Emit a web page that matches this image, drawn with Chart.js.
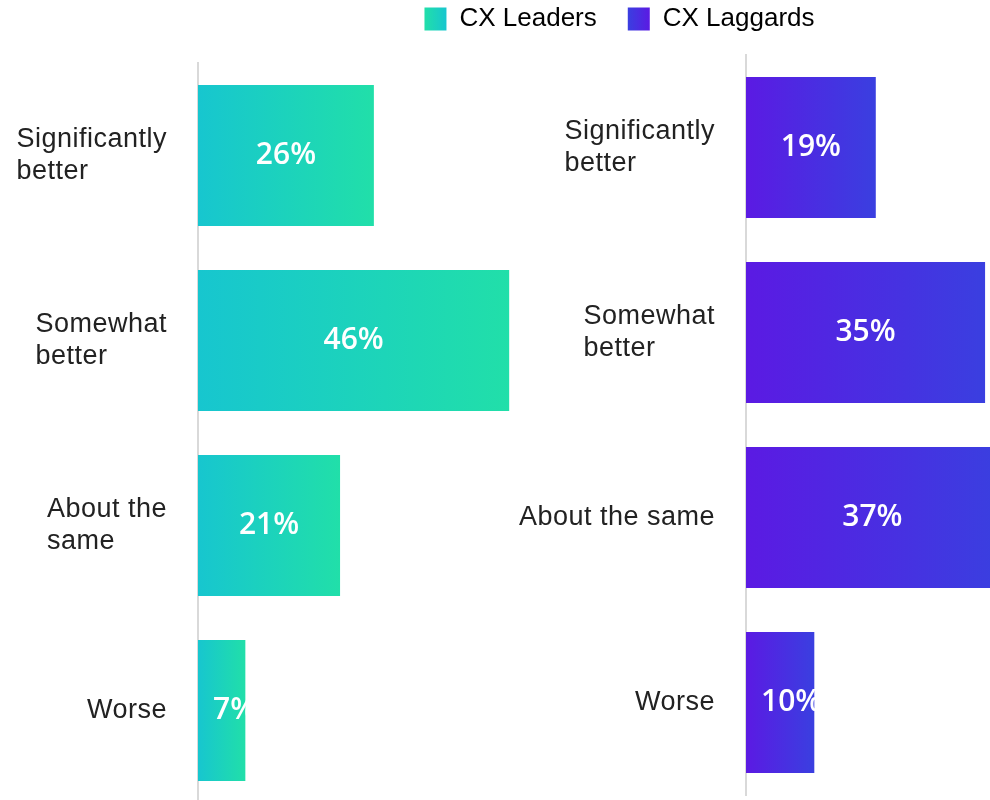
<!DOCTYPE html>
<html><head><meta charset="utf-8">
<script src="https://cdn.jsdelivr.net/npm/chart.js@4.4.1/dist/chart.umd.min.js"></script>
<style>
html,body{margin:0;padding:0;background:#fff;overflow:hidden;}
#wrap{position:relative;width:990px;height:800px;overflow:hidden;background:#fff;}
#cA{position:absolute;left:0;top:0;}
#cB{position:absolute;left:249px;top:-25px;}
</style></head><body>
<div id="wrap">
<canvas id="cA" width="520" height="803"></canvas>
<canvas id="cB" width="741" height="825"></canvas>
</div>
<script>
// ---- data ----
const seriesNames = ["CX Leaders", "CX Laggards"];
const categoriesLeaders = [["Significantly", "better"], ["Somewhat", "better"], ["About the", "same"], ["Worse"]];
const categoriesLaggards = [["Significantly", "better"], ["Somewhat", "better"], ["About the same"], ["Worse"]];
const leadersValues = [26, 46, 21, 7];
const laggardsValues = [19, 35, 37, 10];
const leadersColors = ["#17c6cf", "#21dfa9"];
const laggardsColors = ["#5b1ae3", "#3a3fe0"];
const legendColors = [leadersColors, laggardsColors];

function barGradient(colors) {
  return function (ctx) {
    const chart = ctx.chart;
    const xs = chart.scales && chart.scales.x;
    if (!chart.chartArea || !xs || ctx.raw === undefined) return colors[0];
    const x0 = xs.getPixelForValue(0), x1 = xs.getPixelForValue(ctx.raw);
    if (!isFinite(x0) || !isFinite(x1) || x0 === x1) return colors[0];
    const g = chart.ctx.createLinearGradient(x0, 0, x1, 0);
    g.addColorStop(0, colors[0]);
    g.addColorStop(1, colors[1]);
    return g;
  };
}

const catLabelPlugin = {
  id: 'catLabels',
  afterDraw(chart, args, opts) {
    const ys = chart.scales.y, ctx = chart.ctx;
    ctx.save();
    ctx.font = opts.font;
    if ('letterSpacing' in ctx) ctx.letterSpacing = opts.letterSpacing;
    ctx.fillStyle = opts.color;
    ctx.textBaseline = 'middle';
    ctx.textAlign = 'left';
    const right = chart.chartArea.left - opts.gap;
    ys.getLabels().forEach((lines, i) => {
      const arr = Array.isArray(lines) ? lines : [lines];
      const w = Math.max(...arr.map(s => ctx.measureText(s).width));
      const yc = ys.getPixelForTick(i) + opts.dy;
      arr.forEach((s, k) => {
        ctx.fillText(s, right - w, yc + (k - (arr.length - 1) / 2) * opts.lineHeight);
      });
    });
    ctx.restore();
  }
};

const valueLabelPlugin = {
  id: 'valueLabels',
  afterDatasetsDraw(chart, args, opts) {
    const ctx = chart.ctx;
    const meta = chart.getDatasetMeta(0);
    const ds = chart.data.datasets[0];
    ctx.save();
    ctx.font = opts.font;
    ctx.fillStyle = opts.color;
    ctx.textAlign = 'center';
    ctx.textBaseline = 'middle';
    meta.data.forEach((bar, i) => {
      const txt = ds.data[i] + '%';
      const w = ctx.measureText(txt).width;
      const p = bar.getProps(['x', 'y', 'base'], true);
      const cx = Math.max((p.x + p.base) / 2, p.base + w / 2 + opts.minInset);
      ctx.fillText(txt, cx, p.y + opts.dy);
    });
    ctx.restore();
  }
};

const legendTweak = {
  id: 'legendTweak',
  beforeLayout(chart) {
    const lg = chart.legend;
    if (lg && !lg._patched) {
      const orig = lg.fit;
      lg.fit = function () { orig.call(this); this.height = 80; };
      lg._patched = true;
    }
  },
  afterUpdate(chart) {
    const lg = chart.legend;
    if (!lg || !lg.legendItems || !lg.legendHitBoxes) return;
    const bw = lg.options.labels.boxWidth;
    lg.legendItems.forEach((it, i) => {
      const hb = lg.legendHitBoxes[i];
      if (!hb) return;
      const c = legendColors[i];
      const g = chart.ctx.createLinearGradient(hb.left, 0, hb.left + bw, 0);
      g.addColorStop(0, c[1]);
      g.addColorStop(1, c[0]);
      it.fillStyle = g;
    });
  }
};

const catFont = '27px "Liberation Sans", Arial, sans-serif';
const valFont = '600 30px "Open Sans", sans-serif';

function makeOptions(xmax, axisWidth, padding, legendOpts) {
  return {
    indexAxis: 'y',
    responsive: false,
    animation: false,
    devicePixelRatio: 1,
    layout: { padding: padding },
    scales: {
      x: { display: false, min: 0, max: xmax },
      y: {
        position: 'left',
        z: 1,
        grid: { display: false, drawTicks: false },
        border: { display: true, color: '#d9d9d9', width: 2 },
        ticks: { display: false },
        afterFit(s) { s.width = axisWidth; }
      }
    },
    plugins: {
      legend: legendOpts,
      tooltip: { enabled: false },
      catLabels: { font: catFont, color: '#222', gap: 31, lineHeight: 32, dy: 0, letterSpacing: '0.5px' },
      valueLabels: { font: valFont, color: '#ffffff', minInset: 15, dy: 0 }
    }
  };
}

new Chart(document.getElementById('cA'), {
  type: 'bar',
  data: {
    labels: categoriesLeaders,
    datasets: [{
      label: seriesNames[0],
      data: leadersValues,
      backgroundColor: barGradient(leadersColors),
      borderWidth: 0,
      categoryPercentage: 0.762,
      barPercentage: 1
    }]
  },
  options: makeOptions(47.6, 198, { top: 63, left: 0, right: 0, bottom: 0 }, { display: false }),
  plugins: [catLabelPlugin, valueLabelPlugin]
});

new Chart(document.getElementById('cB'), {
  type: 'bar',
  data: {
    labels: categoriesLaggards,
    datasets: [{
      label: seriesNames[1],
      data: laggardsValues,
      backgroundColor: barGradient(laggardsColors),
      borderWidth: 0,
      categoryPercentage: 0.762,
      barPercentage: 1
    }]
  },
  options: makeOptions(35.72, 497, { top: 0, left: 0, right: 0, bottom: 5 }, {
    display: true,
    position: 'top',
    align: 'center',
    labels: {
      boxWidth: 22,
      boxHeight: 23,
      padding: 31,
      color: '#333',
      font: { family: '"Liberation Sans", Arial, sans-serif', size: 26 },
      generateLabels() {
        return seriesNames.map((n, i) => ({
          text: n,
          fillStyle: legendColors[i][0],
          strokeStyle: 'rgba(0,0,0,0)',
          lineWidth: 0,
          hidden: false
        }));
      }
    }
  }),
  plugins: [catLabelPlugin, valueLabelPlugin, legendTweak]
});
</script>
</body></html>
